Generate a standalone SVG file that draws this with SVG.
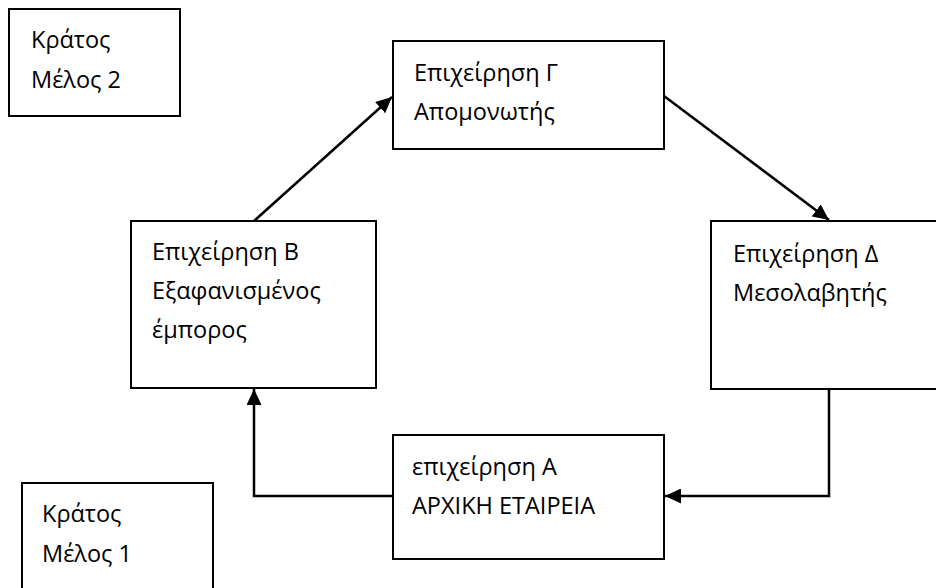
<svg xmlns="http://www.w3.org/2000/svg" width="936" height="588" viewBox="0 0 936 588">
  <style>
    .box { fill: #ffffff; stroke: #000000; stroke-width: 2; }
    .label { font-family: "Open Sans", "Liberation Sans", sans-serif; font-size: 23.5px; fill: #000000; }
    .link { fill: none; stroke: #000000; stroke-width: 2.5; }
  </style>
  <defs>
    <marker id="head" viewBox="0 0 16 15" refX="16" refY="7.5" markerWidth="16" markerHeight="15" markerUnits="userSpaceOnUse" orient="auto">
      <path d="M0,0 L16,7.5 L0,15 Z" fill="#000000"/>
    </marker>
  </defs>

  <!-- connectors -->
  <g id="connectors">
    <path class="link" d="M254,221 L392,97" marker-end="url(#head)"/>
    <path class="link" d="M664,96 L829,220" marker-end="url(#head)"/>
    <path class="link" d="M829,389 L829,496 L665,496" marker-end="url(#head)"/>
    <path class="link" d="M393,496 L254,496 L254,389" marker-end="url(#head)"/>
  </g>

  <g id="state-member-2">
    <rect class="box" x="9" y="9" width="171" height="107"/>
    <text class="label" x="31" y="48">Κράτος</text>
    <text class="label" x="31" y="88">Μέλος 2</text>
  </g>

  <g id="firm-g">
    <rect class="box" x="393" y="41" width="271" height="108"/>
    <text class="label" x="414" y="81">Επιχείρηση Γ</text>
    <text class="label" x="414" y="120">Απομονωτής</text>
  </g>

  <g id="firm-b">
    <rect class="box" x="131" y="221" width="245" height="167"/>
    <text class="label" x="152" y="260">Επιχείρηση Β</text>
    <text class="label" x="152" y="299">Εξαφανισμένος</text>
    <text class="label" x="152" y="338">έμπορος</text>
  </g>

  <g id="firm-d">
    <rect class="box" x="711" y="221" width="235" height="168"/>
    <text class="label" x="733" y="262">Επιχείρηση Δ</text>
    <text class="label" x="733" y="301">Μεσολαβητής</text>
  </g>

  <g id="firm-a">
    <rect class="box" x="393" y="435" width="271" height="124"/>
    <text class="label" x="412" y="475">επιχείρηση Α</text>
    <text class="label" x="412" y="514">ΑΡΧΙΚΗ ΕΤΑΙΡΕΙΑ</text>
  </g>

  <g id="state-member-1">
    <rect class="box" x="22" y="483" width="191" height="120"/>
    <text class="label" x="42" y="522">Κράτος</text>
    <text class="label" x="42" y="562">Μέλος 1</text>
  </g>
</svg>
